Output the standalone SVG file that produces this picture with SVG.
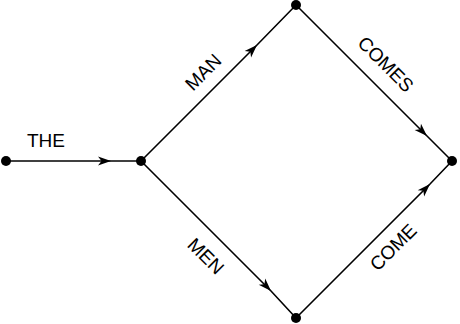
<svg xmlns="http://www.w3.org/2000/svg" width="460" height="324" viewBox="0 0 460 324">
<style>
.edge{fill:none;stroke:#000;stroke-width:1.6;marker-mid:url(#arr)}
.node{fill:#000}
.lbl{font-family:"Liberation Sans",Arial,sans-serif;font-size:19px;fill:#000;text-anchor:middle}
</style>
<defs>
<marker id="arr" markerUnits="userSpaceOnUse" markerWidth="16" markerHeight="12" viewBox="-14 -6 16 12" refX="0" refY="0" orient="auto">
<path d="M0,0 L-13,-4.5 L-9.5,0 L-13,4.5 Z" fill="#000"/>
</marker>
</defs>
<g id="connectors">
<path class="edge" d="M6,161 L111,161 L141,161"/>
<path class="edge" d="M141,161 L257,45 L296,5"/>
<path class="edge" d="M296,5 L427,136 L452,161"/>
<path class="edge" d="M141,161 L271,291 L296,318"/>
<path class="edge" d="M296,318 L430,184 L452,161"/>
</g>
<g id="n-the-start"><circle class="node" cx="6" cy="161" r="5"/></g>
<g id="n-the-end"><circle class="node" cx="141" cy="161" r="5"/></g>
<g id="n-top"><circle class="node" cx="296" cy="5" r="5"/></g>
<g id="n-right"><circle class="node" cx="452" cy="161" r="5"/></g>
<g id="n-bottom"><circle class="node" cx="296" cy="318" r="5"/></g>
<g id="labels">
<text class="lbl" x="46" y="147">THE</text>
<text class="lbl" transform="translate(203,72) rotate(-45)" x="0" y="6.8">MAN</text>
<text class="lbl" transform="translate(386,64) rotate(45)" x="0" y="6.8">COMES</text>
<text class="lbl" transform="translate(206,256) rotate(45)" x="0" y="6.8">MEN</text>
<text class="lbl" transform="translate(393,247) rotate(-45)" x="0" y="6.8">COME</text>
</g>
</svg>
